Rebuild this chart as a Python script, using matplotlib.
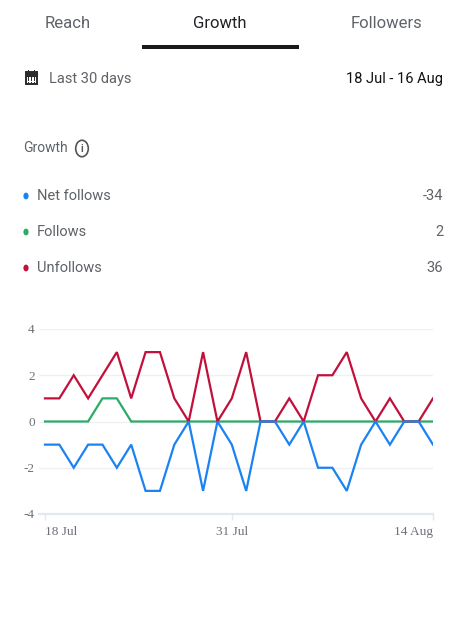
import matplotlib
matplotlib.use("Agg")
import matplotlib.pyplot as plt
from matplotlib.patches import Rectangle, Circle
import numpy as np

# ---- data ----
tabs = ["Reach", "Growth", "Followers"]
series_names = ["Net follows", "Follows", "Unfollows"]
series_totals = ["-34", "2", "36"]
net_follows = [-1, -1, -2, -1, -1, -2, -1, -3, -3, -1, 0, -3, 0, -1,
               -3, 0, 0, -1, 0, -2, -2, -3, -1, 0, -1, 0, 0, -1]
follows = [0, 0, 0, 0, 1, 1, 0, 0, 0, 0, 0, 0, 0, 0,
           0, 0, 0, 0, 0, 0, 0, 0, 0, 0, 0, 0, 0, 0]
unfollows = [1, 1, 2, 1, 2, 3, 1, 3, 3, 1, 0, 3, 0, 1,
             3, 0, 0, 1, 0, 2, 2, 3, 1, 0, 1, 0, 0, 1]
x_tick_pos = [0, 13, 27]
x_tick_labels = ["18 Jul", "31 Jul", "14 Aug"]
y_ticks = [-4, -2, 0, 2, 4]
period_label = "Last 30 days"
date_range = "18 Jul - 16 Aug"
section_title = "Growth"

colors = ["#1a82f2", "#2aab66", "#c2103b"]

W, H = 473, 618
fig = plt.figure(figsize=(W / 100, H / 100), dpi=100)
fig.patch.set_facecolor("white")

def fx(px):
    return px / W

def fy(py):
    return 1 - py / H

UI = ["Roboto", "DejaVu Sans"]
gray = "#5f6368"

# tabs
tab_x = [68, 220, 386]
for t, x in zip(tabs, tab_x):
    fig.text(fx(x), fy(23.5), t, ha="center", va="center", fontsize=12,
             family=UI, color="#202124" if t == "Growth" else gray)
fig.patches.append(Rectangle((fx(142), fy(48.5)), fx(299) - fx(142), fy(45) - fy(48.5),
                             transform=fig.transFigure, color="#1a1a1a", lw=0))

# calendar icon
cx0, cy0 = 25.5, 72
fig.patches.append(Rectangle((fx(cx0), fy(cy0 + 12)), fx(11.5), fy(0) - fy(12), transform=fig.transFigure,
                             facecolor="white", edgecolor="#2b2b2b", lw=1.4))
fig.patches.append(Rectangle((fx(cx0), fy(cy0 + 3.5)), fx(11.5), fy(0) - fy(3.5), transform=fig.transFigure,
                             facecolor="#2b2b2b", edgecolor="#2b2b2b", lw=0.8))
for bx in (28, 34):
    fig.patches.append(Rectangle((fx(bx), fy(cy0 + 1)), fx(1.3), fy(0) - fy(2.5), transform=fig.transFigure,
                                 facecolor="#2b2b2b", lw=0))
for r in range(3):
    for c in range(3):
        fig.patches.append(Rectangle((fx(27.5 + c * 3), fy(cy0 + 6.5 + r * 2.2)), fx(1.6), fy(0) - fy(1.3),
                                     transform=fig.transFigure, facecolor="#2b2b2b", lw=0))
fig.text(fx(49), fy(78.5), period_label, ha="left", va="center", fontsize=10.5, family=UI, color=gray)
fig.text(fx(443), fy(78.5), date_range, ha="right", va="center", fontsize=10.5, family=UI, color="#111111")

# section title with info icon
fig.text(fx(23), fy(148.5), section_title, ha="left", va="center", fontsize=10, family=UI, color=gray)
fig.patches.append(Circle((fx(82), fy(148.5)), fx(6.3), transform=fig.transFigure,
                          facecolor="none", edgecolor="#555555", lw=1.2))
fig.text(fx(82), fy(149.5), "i", ha="center", va="center", fontsize=7.5, family=UI,
         color="#555555", fontweight="bold")

# legend rows
rows_y = [196, 232, 268]
for name, tot, col, yy in zip(series_names, series_totals, colors, rows_y):
    fig.patches.append(Circle((fx(26), fy(yy)), fx(2.6), transform=fig.transFigure,
                              facecolor=col, lw=0))
    fig.text(fx(37), fy(yy + 0.5), name, ha="left", va="center", fontsize=10.5, family=UI, color=gray)
    fig.text(fx(443), fy(yy + 0.5), tot, ha="right", va="center", fontsize=10.5, family=UI, color=gray)

# chart
ax = fig.add_axes([fx(39), fy(514), fx(433) - fx(39), fy(329) - fy(514)])
days = np.arange(len(net_follows))
ax.plot(days, follows, color=colors[1], lw=1.6, zorder=3, solid_joinstyle="miter")
ax.plot(days, unfollows, color=colors[2], lw=1.6, zorder=4, solid_joinstyle="miter")
ax.plot(days, net_follows, color=colors[0], lw=1.6, zorder=5, solid_joinstyle="miter")
ax.set_ylim(-4, 4)
ax.set_xlim(-6 / 14.4, 27)
ax.set_yticks(y_ticks)
ax.set_yticklabels([str(v) for v in y_ticks])
for v in y_ticks[1:]:
    ax.axhline(v, color="#eef0f4", lw=1, zorder=1)
for s in ["top", "right", "left"]:
    ax.spines[s].set_visible(False)
ax.spines["bottom"].set_color("#e3e7ee")
ax.spines["bottom"].set_linewidth(1.6)
ax.set_xticks(x_tick_pos)
ax.set_xticklabels(x_tick_labels)
ax.tick_params(axis="y", length=0, pad=3, labelsize=9.5, labelcolor="#6e7079")
ax.tick_params(axis="x", length=4.5, width=1, color="#e3e7ee", pad=4, labelsize=9.5, labelcolor="#6e7079")
for lab in ax.get_yticklabels() + ax.get_xticklabels():
    lab.set_family("Liberation Serif")
xl = ax.get_xticklabels()
xl[0].set_ha("left")
xl[-1].set_ha("right")
ax.set_facecolor("white")

fig.savefig("out.png", dpi=100, facecolor="white")
